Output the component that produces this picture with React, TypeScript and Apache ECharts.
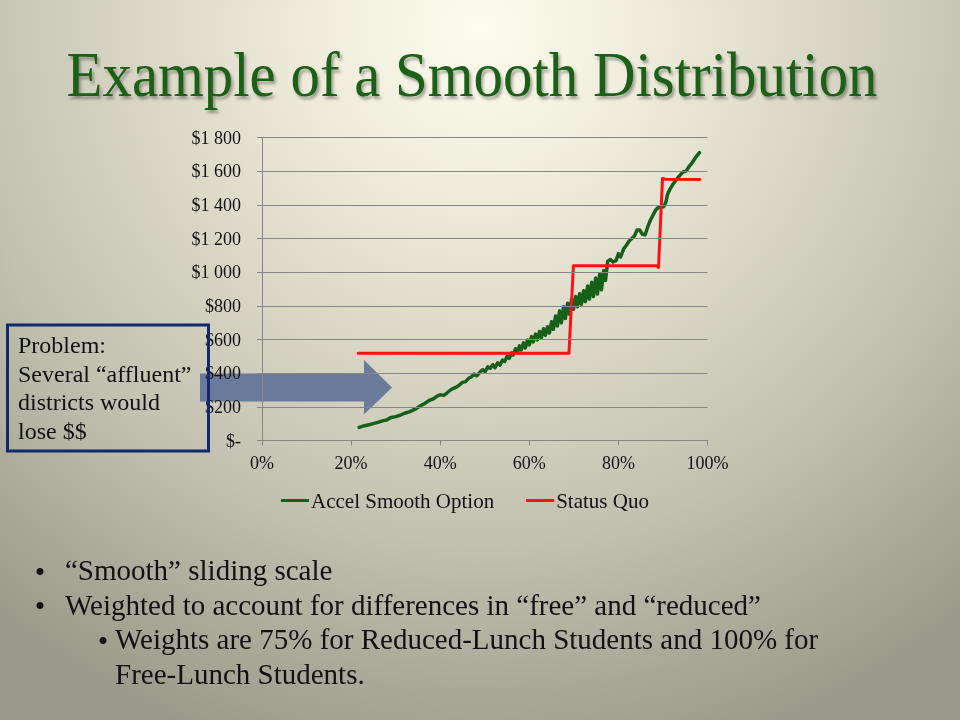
import React, { useEffect, useRef } from "react";
import * as echarts from "echarts";

// ---- data ----
const xTicksPct = [0, 20, 40, 60, 80, 100];
const yTicks = [0, 200, 400, 600, 800, 1000, 1200, 1400, 1600, 1800];

const seriesNames = ["Accel Smooth Option", "Status Quo"];

// Accel Smooth Option: [share of districts %, $ per student]
const accelSmooth: [number, number][] = [
  [21.8, 78], [23, 88], [24.5, 97], [26, 108], [27.2, 118], [28, 122], [28.8, 135], [30, 142],
  [31, 150], [32, 162], [33.2, 172], [34.5, 188], [35.5, 205], [36.5, 220], [37.7, 240], [38.5, 248],
  [39.2, 262], [40, 272], [40.8, 268], [41.5, 282], [42.3, 300], [43, 310], [43.7, 318], [44.4, 332],
  [45, 345], [45.7, 350], [46.4, 370], [47, 378],
  [47.6, 395], [48.2, 385], [48.9, 405], [49.5, 420], [50.1, 410], [50.7, 438], [51.2, 428], [51.8, 450],
  [52.3, 432], [52.9, 462], [53.4, 448], [54, 478], [54.5, 470], [55, 500], [55.5, 488], [56, 520], [56.4, 508],
  [56.9, 545], [57.3, 522], [57.8, 562], [58.2, 538], [58.7, 580], [59.1, 550], [59.6, 597], [60, 568],
  [60.5, 617], [60.9, 586], [61.4, 632], [61.8, 598], [62.3, 648], [62.7, 612], [63.2, 664], [63.6, 625],
  [64.1, 676], [64.5, 638], [65, 705], [65.4, 660], [65.9, 740], [66.3, 680], [66.8, 770], [67.2, 700],
  [67.7, 795], [68.1, 725], [68.6, 815], [69, 750], [69.5, 840], [69.9, 780], [70.4, 855], [70.8, 795],
  [71.3, 872], [71.7, 810], [72.2, 890], [72.6, 825], [73.1, 918], [73.5, 840], [74, 940], [74.4, 855],
  [74.9, 965], [75.3, 870], [75.8, 990], [76.2, 895], [76.7, 1010], [77.1, 950], [77.6, 1065],
  [78.2, 1075], [78.8, 1060], [79.5, 1070], [80, 1110], [80.5, 1090], [81.2, 1140], [81.8, 1160], [82.4, 1185],
  [83, 1200], [83.6, 1215], [84.2, 1250], [84.8, 1250], [85.4, 1225], [86, 1222], [86.6, 1270], [87.2, 1310],
  [87.8, 1340], [88.4, 1370], [89, 1385], [89.6, 1385], [90.2, 1390], [90.7, 1420], [91, 1460], [91.5, 1490],
  [92.2, 1520], [93, 1550], [93.8, 1575], [94.5, 1595], [95.2, 1600], [95.8, 1625], [96.5, 1648], [97.3, 1680],
  [98.2, 1710],
];

// Status Quo
const statusQuo: [number, number][] = [
  [21.6, 518], [68.9, 518], [69.9, 1038], [88.6, 1038], [89.0, 1028], [89.9, 1557], [90.5, 1552], [98.3, 1551],
];

const titleText = "Example of a Smooth Distribution";
const problemLines = ["Problem:", "Several \u201caffluent\u201d", "districts would", "lose $$"];
const bulletLines = [
  { text: "\u201cSmooth\u201d sliding scale", level: 0, bullet: true },
  { text: "Weighted to account for differences in \u201cfree\u201d and \u201creduced\u201d", level: 0, bullet: true },
  { text: "Weights are 75% for Reduced-Lunch Students and 100% for", level: 1, bullet: true },
  { text: "Free-Lunch Students.", level: 1, bullet: false },
];

const SERIF = '"Liberation Serif", "Times New Roman", serif';

function fmtDollar(v: number): string {
  if (v === 0) return "$-";
  if (v >= 1000) {
    const th = Math.floor(v / 1000);
    const rest = String(v % 1000).padStart(3, "0");
    return "$" + th + " " + rest;
  }
  return "$" + v;
}

export default function App() {
  const ref = useRef<HTMLDivElement>(null);
  useEffect(() => {
    if (!ref.current) return;
    const chart = echarts.init(ref.current, null, { renderer: "svg" });

    const graphics: any[] = [];
    graphics.push({
      type: "text",
      x: 472,
      y: 74,
      z: 10,
      scaleX: 0.92,
      style: {
        text: titleText,
        font: `normal 64px ${SERIF}`,
        fill: "#1a5e17",
        textAlign: "center",
        textVerticalAlign: "middle",
        textShadowColor: "rgba(0,0,0,0.35)",
        textShadowOffsetX: 2,
        textShadowOffsetY: 3,
        textShadowBlur: 3,
      },
    });
    // arrow
    graphics.push({
      type: "polygon",
      z: 1,
      shape: {
        points: [
          [200, 373.5], [364, 373.5], [364, 360], [392, 387.5], [364, 414.5], [364, 401.5], [200, 401.5],
        ],
      },
      style: { fill: "#5b6e96", opacity: 0.88 },
    });
    // problem box
    graphics.push({
      type: "rect",
      z: 20,
      shape: { x: 7.5, y: 325, width: 201, height: 126 },
      style: { fill: "rgba(0,0,0,0)", stroke: "#112a6c", lineWidth: 3 },
    });
    problemLines.forEach((t, i) => {
      graphics.push({
        type: "text",
        z: 20,
        x: 18,
        y: 345 + i * 28.5,
        style: { text: t, font: `normal 24px ${SERIF}`, fill: "#111", textVerticalAlign: "middle" },
      });
    });
    bulletLines.forEach((b, i) => {
      const y = 570 + i * 34.5;
      const tx = b.level === 0 ? 65 : 115;
      const bx = b.level === 0 ? 40 : 103;
      if (b.bullet) {
        graphics.push({
          type: "text",
          z: 10,
          x: bx,
          y: y + 1,
          style: { text: "\u2022", font: `normal 30px ${SERIF}`, fill: "#111", textAlign: "center", textVerticalAlign: "middle" },
        });
      }
      graphics.push({
        type: "text",
        z: 10,
        x: tx,
        y,
        style: { text: b.text, font: `normal 29px ${SERIF}`, fill: "#111", textVerticalAlign: "middle" },
      });
    });

    chart.setOption({
      animation: false,
      backgroundColor: "transparent",
      grid: { left: 262, right: 252.5, top: 137.5, bottom: 279.5, containLabel: false },
      legend: {
        data: seriesNames,
        left: 276,
        top: 485,
        icon: "rect",
        itemWidth: 28,
        itemHeight: 3,
        itemGap: 32,
        textStyle: { fontFamily: SERIF, fontSize: 21, color: "#111", padding: [0, 0, 0, -3] },
      },
      xAxis: {
        type: "value",
        min: 0,
        max: 100,
        interval: 20,
        axisLine: { show: true, lineStyle: { color: "#868686", width: 1 } },
        axisTick: { show: true, length: 5, lineStyle: { color: "#868686" } },
        splitLine: { show: false },
        axisLabel: {
          formatter: (v: number) => (xTicksPct.includes(v) ? v + "%" : ""),
          fontFamily: SERIF,
          fontSize: 18,
          color: "#111",
          margin: 13,
        },
      },
      yAxis: {
        type: "value",
        min: 0,
        max: 1800,
        interval: 200,
        z: 5,
        axisLine: { show: true, lineStyle: { color: "#868686", width: 1 } },
        axisTick: { show: true, length: 5, lineStyle: { color: "#868686" } },
        splitLine: { show: true, lineStyle: { color: "#868686", width: 1 } },
        axisLabel: {
          formatter: (v: number) => (yTicks.includes(v) ? fmtDollar(v) : ""),
          fontFamily: SERIF,
          fontSize: 18,
          color: "#111",
          margin: 21,
        },
      },
      series: [
        {
          name: seriesNames[0],
          type: "line",
          data: accelSmooth,
          showSymbol: false,
          symbol: "none",
          color: "#17601a",
          lineStyle: { color: "#17601a", width: 3.5, join: "round", cap: "round" },
          z: 3,
        },
        {
          name: seriesNames[1],
          type: "line",
          data: statusQuo,
          showSymbol: false,
          symbol: "none",
          color: "#ff1010",
          lineStyle: { color: "#ff1010", width: 3, join: "round", cap: "round" },
          z: 4,
        },
      ],
      graphic: graphics,
    });
    return () => chart.dispose();
  }, []);

  return (
    <div
      style={{
        position: "fixed",
        left: 0,
        top: 0,
        width: 960,
        height: 720,
        background:
          "radial-gradient(ellipse 80% 105% at 50% 4%, #fefcef 0%, #efecdc 22%, #d9d6c6 45%, #c2c0b0 68%, #a9a898 88%, #9a998b 100%)",
      }}
    >
      <div ref={ref} style={{ width: 960, height: 720 }} />
    </div>
  );
}
